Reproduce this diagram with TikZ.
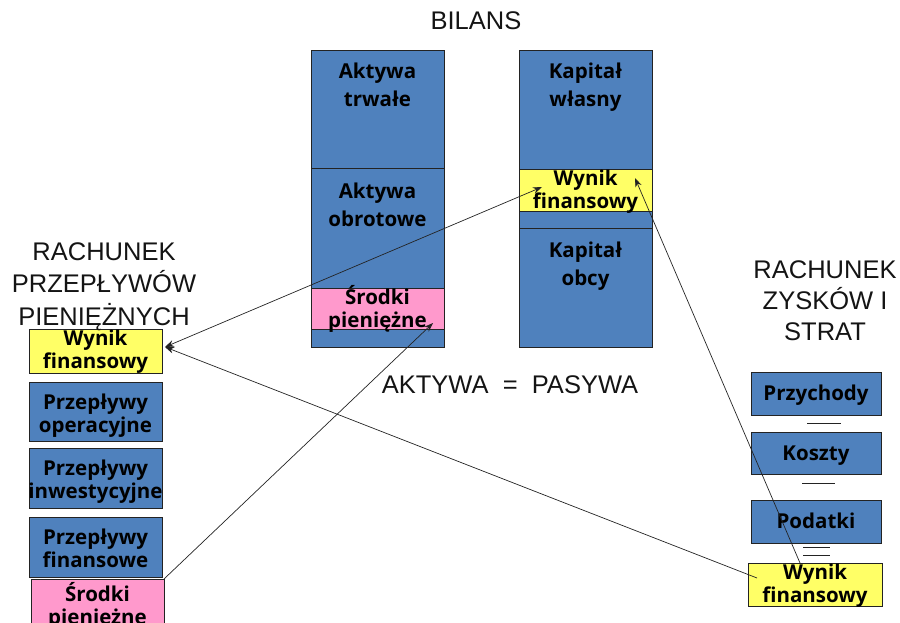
\documentclass[tikz,border=0pt]{standalone}
\usepackage{fontspec}
\setmainfont{Liberation Sans}
\newfontfamily\boxfont{Open Sans}
\usetikzlibrary{arrows.meta}

\definecolor{cellblue}{RGB}{79,129,189}
\definecolor{cellyellow}{RGB}{255,255,102}
\definecolor{cellpink}{RGB}{255,153,204}
\definecolor{edgegray}{RGB}{35,35,35}

\begin{document}
\begin{tikzpicture}[x=1pt,y=-1pt,
  >={Stealth[length=9pt,width=6.5pt]},
  cell/.style={draw=edgegray, line width=0.8pt, inner sep=0pt, outer sep=0pt,
    anchor=north west, minimum width=133pt},
  bluecell/.style={cell, fill=cellblue},
  yellowcell/.style={cell, fill=cellyellow},
  pinkcell/.style={cell, fill=cellpink},
  % labels are placed by the baseline of their last line
  biglbl/.style={font=\boxfont\bfseries\fontsize{20.5}{28}\selectfont,
    align=center, anchor=base, inner sep=0pt},
  smalllbl/.style={font=\boxfont\bfseries\fontsize{20.5}{22.5}\selectfont,
    align=center, anchor=base, inner sep=0pt},
  hdr/.style={font=\fontsize{25.5}{32.5}\selectfont, text=black!92,
    align=center, anchor=base, inner sep=0pt},
  conn/.style={draw=edgegray, line width=0.7pt},
  minus/.style={draw=edgegray, line width=0.8pt}
]
\useasboundingbox (0,0) rectangle (900,623);
\clip (0,0) rectangle (900,623);

% ---- balance sheet: assets column ----
\node[bluecell,   minimum height=118pt] (aktTrwale) at (311,50)  {};
\node[bluecell,   minimum height=120pt] (aktObrot)  at (311,168) {};
\node[pinkcell,   minimum height=41pt]  (bilSrodki) at (311,288) {};
\node[bluecell,   minimum height=18pt]  (aktRest)   at (311,329) {};

% ---- balance sheet: liabilities column ----
\node[bluecell,   minimum height=119pt] (kapWlasny) at (519,50)  {};
\node[yellowcell, minimum height=42pt]  (bilWynik)  at (519,169) {};
\node[bluecell,   minimum height=17pt]  (pasGap)    at (519,211) {};
\node[bluecell,   minimum height=119pt] (kapObcy)   at (519,228) {};

% ---- cash flow statement ----
\node[yellowcell, minimum height=44pt] (cfWynik)  at (29,329) {};
\node[bluecell,   minimum height=59pt] (cfOper)   at (29,382) {};
\node[bluecell,   minimum height=60pt] (cfInw)    at (29,448) {};
\node[bluecell,   minimum height=60pt] (cfFin)    at (29,517) {};
\node[pinkcell,   minimum height=50pt] (cfSrodki) at (31,579) {};

% ---- income statement ----
\node[bluecell,   minimum width=130pt, minimum height=43pt] (pPrzych)  at (751,372) {};
\node[bluecell,   minimum width=130pt, minimum height=42pt] (pKoszty)  at (751,432) {};
\node[bluecell,   minimum width=130pt, minimum height=43pt] (pPodatki) at (751,500) {};
\node[yellowcell, minimum width=134pt, minimum height=43pt] (pWynik)   at (748,563) {};

% ---- cell labels ----
\node[biglbl]   (tAktTrwale) at (377.5,107) {Aktywa\\trwałe};
\node[biglbl]   (tAktObrot)  at (377.5,226) {Aktywa\\obrotowe};
\node[smalllbl] (tBilSrodki) at (377.5,327) {Środki\\pieniężne};
\node[biglbl]   (tKapWlasny) at (585.5,107) {Kapitał\\własny};
\node[smalllbl] (tBilWynik)  at (585.5,208) {Wynik\\finansowy};
\node[biglbl]   (tKapObcy)   at (585.5,285) {Kapitał\\obcy};

\node[smalllbl] (tCfWynik)  at (95.5,368) {Wynik\\finansowy};
\node[smalllbl] (tCfOper)   at (95.5,432) {Przepływy\\operacyjne};
\node[smalllbl] (tCfInw)    at (95.5,498) {Przepływy\\inwestycyjne};
\node[smalllbl] (tCfFin)    at (95.5,567) {Przepływy\\finansowe};
\node[smalllbl] (tCfSrodki) at (97.5,624) {Środki\\pieniężne};

\node[smalllbl] (tPrzych)  at (816,400) {Przychody};
\node[smalllbl] (tKoszty)  at (816,460) {Koszty};
\node[smalllbl] (tPodatki) at (816,528) {Podatki};
\node[smalllbl] (tPWynik)  at (815,602) {Wynik\\finansowy};

% ---- headings ----
\node[hdr] (hBilans) at (476,30)  {BILANS};
\node[hdr] (hCash)   at (104,325) {RACHUNEK\\PRZEPŁYWÓW\\PIENIĘŻNYCH};
\node[hdr, font=\fontsize{25.5}{31}\selectfont] (hPL) at (825,340) {RACHUNEK\\ZYSKÓW I\\STRAT};
\node[hdr] (hEq)     at (510,393) {AKTYWA\ \ =\ \ PASYWA};

% ---- minus / equals signs between income statement items ----
\draw[minus] (807,423) -- (841,423);
\draw[minus] (802,483) -- (835,483);
\draw[minus] (803,547) -- (830,547);
\draw[minus] (803,555) -- (830,555);

% ---- connectors ----
\coordinate (cfWynikTip) at ([xshift=3pt,yshift=4pt]cfWynik.east);
\coordinate (bilWynikIn) at (542,187);
\coordinate (bilWynikUp) at (635,178);
\coordinate (bilSrodkiIn) at (433,323);
\coordinate (pWynikIn) at (757,578);

\draw[conn, <->] (cfWynikTip) -- (bilWynikIn);
\draw[conn, ->] (cfSrodki.north east) -- (bilSrodkiIn);
\draw[conn, ->] ([xshift=-15pt]pWynik.north) -- (bilWynikUp);
\draw[conn, ->] (pWynikIn) -- (cfWynikTip);
\end{tikzpicture}
\end{document}
